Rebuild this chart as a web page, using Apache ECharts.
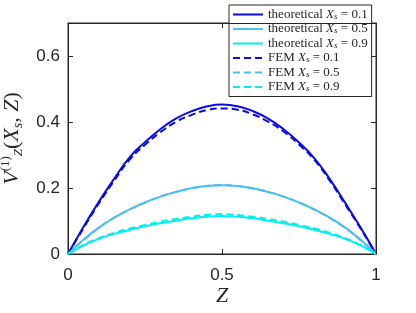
<!DOCTYPE html>
<html><head><meta charset="utf-8">
<script src="https://cdn.jsdelivr.net/npm/echarts@6/dist/echarts.min.js"></script>
<style>html,body{margin:0;padding:0;background:#fff}#c{width:416px;height:313px}</style>
</head><body><div id="c"></div>
<script>
// Z positions
var zValues = [0,0.05,0.1,0.15,0.2,0.25,0.3,0.35,0.4,0.45,0.5,0.55,0.6,0.65,0.7,0.75,0.8,0.85,0.9,0.95,1];
// theoretical curves
var theoXs01 = [0,0.082,0.158,0.228,0.293,0.339,0.378,0.410,0.432,0.447,0.453,0.448,0.433,0.410,0.378,0.338,0.290,0.227,0.155,0.080,0];
var theoXs05 = [0,0.043,0.080,0.110,0.135,0.156,0.174,0.188,0.199,0.206,0.208,0.206,0.199,0.188,0.174,0.156,0.135,0.110,0.080,0.043,0];
var theoXs09 = [0,0.026,0.046,0.061,0.073,0.084,0.093,0.101,0.108,0.113,0.115,0.113,0.108,0.101,0.093,0.084,0.073,0.061,0.046,0.026,0];
// FEM curves
var femXs01 = [0,0.078,0.153,0.222,0.286,0.331,0.369,0.400,0.421,0.436,0.441,0.437,0.423,0.401,0.371,0.332,0.285,0.222,0.150,0.077,0];
var femXs05 = [0,0.042,0.079,0.110,0.135,0.156,0.174,0.188,0.199,0.206,0.209,0.206,0.199,0.188,0.174,0.156,0.134,0.109,0.079,0.042,0];
var femXs09 = [0,0.027,0.048,0.064,0.077,0.088,0.098,0.106,0.113,0.118,0.121,0.118,0.113,0.106,0.098,0.088,0.077,0.064,0.048,0.027,0];
// axis ticks
var xTicks = [0, 0.5, 1];
var yTicks = [0, 0.2, 0.4, 0.6];
var xMax = 1, yMax = 0.7;
var seriesNames = ['theoretical Xs = 0.1','theoretical Xs = 0.5','theoretical Xs = 0.9','FEM Xs = 0.1','FEM Xs = 0.5','FEM Xs = 0.9'];
var seriesData = [theoXs01, theoXs05, theoXs09, femXs01, femXs05, femXs09];
var seriesColors = ['#0a0ae6','#4dbeee','#00f0f0','#0a0ae6','#4dbeee','#00f0f0'];

function pairs(ys){ return zValues.map(function(z,i){ return [z, ys[i]]; }); }

var axisColor = '#262626';
var chart = echarts.init(document.getElementById('c'), null, {renderer:'canvas'});
var series = seriesNames.map(function(n, i){
  var dashed = i >= 3;
  var s = {
    name: n, type: 'line', data: pairs(seriesData[i]), smooth: true, symbol: 'none',
    xAxisIndex: 0, yAxisIndex: 0,
    lineStyle: {color: seriesColors[i], width: 2, type: dashed ? [7,4] : 'solid'},
    itemStyle: {color: seriesColors[i]},
    z: dashed ? 3 : 2
  };
  if (i === 0) {
    // top and right border of the axes box, placed through the axis scales
    s.markLine = {
      silent: true, symbol: 'none', animation: false,
      label: {show: false},
      lineStyle: {color: axisColor, width: 1, type: 'solid'},
      emphasis: {disabled: true},
      data: [{yAxis: yMax}, {xAxis: xMax}]
    };
  }
  return s;
});
// empty helper series for the mirrored (top/right) tick axes
series.push({name: '_frame', type: 'line', data: [], xAxisIndex: 1, yAxisIndex: 1, symbol: 'none', silent: true});

function legendFmt(name){
  var m = name.match(/^(.*) Xs = (.*)$/);
  return '{n|' + m[1] + ' }{x|X}{s|s}{n| = ' + m[2] + '}';
}

var serifFam = '"Liberation Serif", "DejaVu Serif", serif';
var sans = '"Liberation Sans", Arial, sans-serif';

function frameAxis(pos){
  return {
    type: 'value', min: 0, max: (pos === 'top') ? xMax : yMax, interval: (pos === 'top') ? 0.5 : 0.2, position: pos,
    axisLine: {show: true, onZero: false, lineStyle: {color: axisColor, width: 1}},
    axisTick: {show: true, inside: true, length: 5, lineStyle: {color: axisColor}},
    splitLine: {show: false}, axisLabel: {show: false}
  };
}

var yName = '{vi|V}{sp|(1)}{sb|Z}{v|(}{vi|X}{s|s}{v|, }{vi|Z}{v|)}';

var option = {
  animation: false,
  title: {text: 'Z', left: 216, top: 285, padding: 0,
    textStyle: {fontFamily: serifFam, fontSize: 22, fontStyle: 'italic', fontWeight: 'normal', color: axisColor}},
  grid: {left: 68, right: 40, top: 23, bottom: 59, show: true, borderColor: axisColor, borderWidth: 1,
    backgroundColor: 'transparent', containLabel: false, outerBoundsMode: 'none'},
  xAxis: [{
    type: 'value', min: 0, max: xMax, interval: 0.5, position: 'bottom',
    axisLine: {show: true, onZero: false, lineStyle: {color: axisColor, width: 1}},
    axisTick: {show: true, inside: true, length: 5, lineStyle: {color: axisColor}},
    splitLine: {show: false},
    axisLabel: {color: axisColor, fontSize: 17, fontFamily: sans, margin: 13,
      formatter: function(v){ return xTicks.indexOf(v) >= 0 ? String(v) : ''; }}
  }, frameAxis('top')],
  yAxis: [{
    type: 'value', min: 0, max: yMax, interval: 0.2, position: 'left',
    name: yName, nameLocation: 'middle', nameRotate: 90, nameGap: 37,
    nameTextStyle: {
      color: axisColor,
      rich: {
        vi: {fontFamily: serifFam, fontSize: 22, fontStyle: 'italic', color: axisColor, lineHeight: 26},
        v: {fontFamily: serifFam, fontSize: 22, color: axisColor, lineHeight: 26},
        sp: {fontFamily: serifFam, fontSize: 13, color: axisColor, lineHeight: 12, verticalAlign: 'top'},
        sb: {fontFamily: serifFam, fontSize: 13, fontStyle: 'italic', color: axisColor, lineHeight: 10, verticalAlign: 'bottom'},
        s: {fontFamily: serifFam, fontSize: 14, fontStyle: 'italic', color: axisColor, lineHeight: 12, verticalAlign: 'bottom'}
      }
    },
    axisLine: {show: true, onZero: false, lineStyle: {color: axisColor, width: 1}},
    axisTick: {show: true, inside: true, length: 5, lineStyle: {color: axisColor}},
    splitLine: {show: false},
    axisLabel: {color: axisColor, fontSize: 17, fontFamily: sans, margin: 8, showMaxLabel: false,
      formatter: function(v){ var r = Math.round(v*10)/10; return yTicks.indexOf(r) >= 0 ? String(r) : ''; }}
  }, frameAxis('right')],
  legend: {
    data: seriesNames, orient: 'vertical', left: 229, top: 5,
    padding: [3, 4, 3, 3], itemGap: 1.5, itemWidth: 30, itemHeight: 12,
    backgroundColor: '#fff', borderColor: axisColor, borderWidth: 1,
    itemStyle: {color: 'rgba(0,0,0,0)', borderColor: 'rgba(0,0,0,0)', borderWidth: 0, opacity: 0},
    formatter: legendFmt,
    textStyle: {
      color: axisColor,
      rich: {
        n: {fontFamily: serifFam, fontSize: 13, color: axisColor, lineHeight: 13},
        x: {fontFamily: serifFam, fontSize: 13, fontStyle: 'italic', color: axisColor, lineHeight: 13},
        s: {fontFamily: serifFam, fontSize: 9, fontStyle: 'italic', color: axisColor, lineHeight: 8, verticalAlign: 'bottom'}
      }
    }
  },
  series: series
};
chart.setOption(option);
</script>
</body></html>
